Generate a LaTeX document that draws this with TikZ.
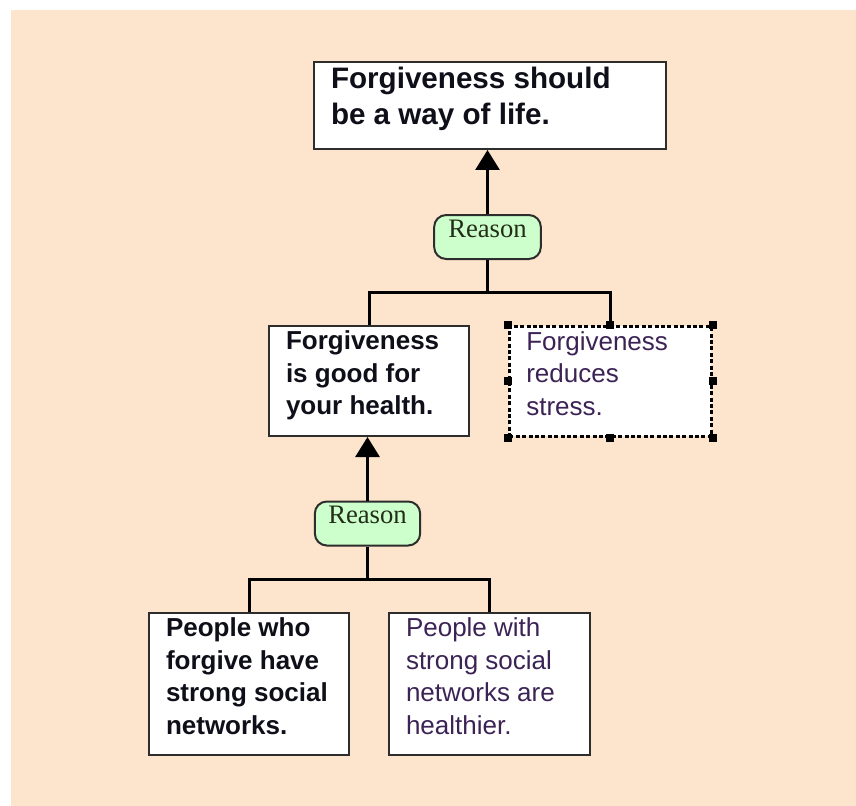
\documentclass[tikz,border=0pt]{standalone}
\usepackage{fontspec}
\newfontfamily\boxfont{Liberation Sans}
\newfontfamily\pillfont{Liberation Serif}
\usetikzlibrary{arrows.meta}
\definecolor{bgpeach}{RGB}{252,228,205}
\definecolor{pillgreen}{RGB}{204,255,204}
\definecolor{boxline}{RGB}{45,45,45}
\definecolor{boldink}{RGB}{15,15,25}
\definecolor{plainink}{RGB}{60,35,85}
\definecolor{pillink}{RGB}{35,45,25}
% box text: height, width, lines
\newcommand{\argtext}[3]{\parbox[c][#1][t]{#2}{\vspace*{0.8pt}\strut#3}}

\begin{document}
\begin{tikzpicture}[x=0.75pt, y=-0.75pt,
		argbox/.style={draw=boxline, line width=1.5pt, fill=white, anchor=north west, inner xsep=12.75pt, inner ysep=0pt},
		boldtext/.style={font=\boxfont\bfseries\fontsize{19.5pt}{24.4pt}\selectfont, text=boldink},
		plaintext/.style={font=\boxfont\fontsize{19.5pt}{24.4pt}\selectfont, text=plainink},
		reasonpill/.style={draw=boxline, line width=1.5pt, fill=pillgreen, rounded corners=9pt, inner ysep=0pt, text height=16.5pt, text depth=16.5pt, font=\pillfont\fontsize{20pt}{24pt}\selectfont, text=pillink},
		link/.style={line width=2.25pt, black},
		tip/.style={-{Triangle[length=15pt, width=18pt]}}]
	\useasboundingbox (0,0) rectangle (856,806);
	\fill[white] (0,0) rectangle (856,806);
	\fill[bgpeach] (11,10) rectangle (856,806);

	% claim
	\node[argbox, boldtext, font=\boxfont\bfseries\fontsize{22.2pt}{27pt}\selectfont] (life) at (313,61) {\argtext{65.25pt}{238.5pt}{Forgiveness should\\be a way of life.}};

	% first reason
	\node[reasonpill, minimum width=80pt] (reason1) at (487.5,237) {Reason};
	\node[argbox, boldtext] (health) at (268,325) {\argtext{82.5pt}{124.5pt}{Forgiveness\\is good for\\your health.}};
	\node[argbox, plaintext, draw=black, line width=2pt, dash pattern=on 3pt off 1.8pt] (stress) at (508,325) {\argtext{82.5pt}{126pt}{Forgiveness\\reduces\\stress.}};
	\foreach \a in {north west, north, north east, east, south east, south, south west, west}
		\fill[black] (stress.\a) ++(-4,-4) rectangle ++(8,8);

	% second reason
	\node[reasonpill, minimum width=79pt] (reason2) at (367.5,523.5) {Reason};
	\node[argbox, boldtext] (social) at (148,612) {\argtext{106.5pt}{124.5pt}{People who\\forgive have\\strong social\\networks.}};
	\node[argbox, plaintext] (healthier) at (388,612) {\argtext{106.5pt}{125pt}{People with\\strong social\\networks are\\healthier.}};

	% connectors
	\draw[link, tip] (reason1.north) -- (reason1.north |- life.south);
	\draw[link] (reason1.south) -- ++(0,32) coordinate (fork1);
	\draw[link] (health.north) |- (fork1) -| (stress.north);

	\draw[link, tip] (reason2.north) -- (reason2.north |- health.south);
	\draw[link] (reason2.south) -- ++(0,33) coordinate (fork2);
	\draw[link] (social.north) |- (fork2) -| (healthier.north);
\end{tikzpicture}
\end{document}
